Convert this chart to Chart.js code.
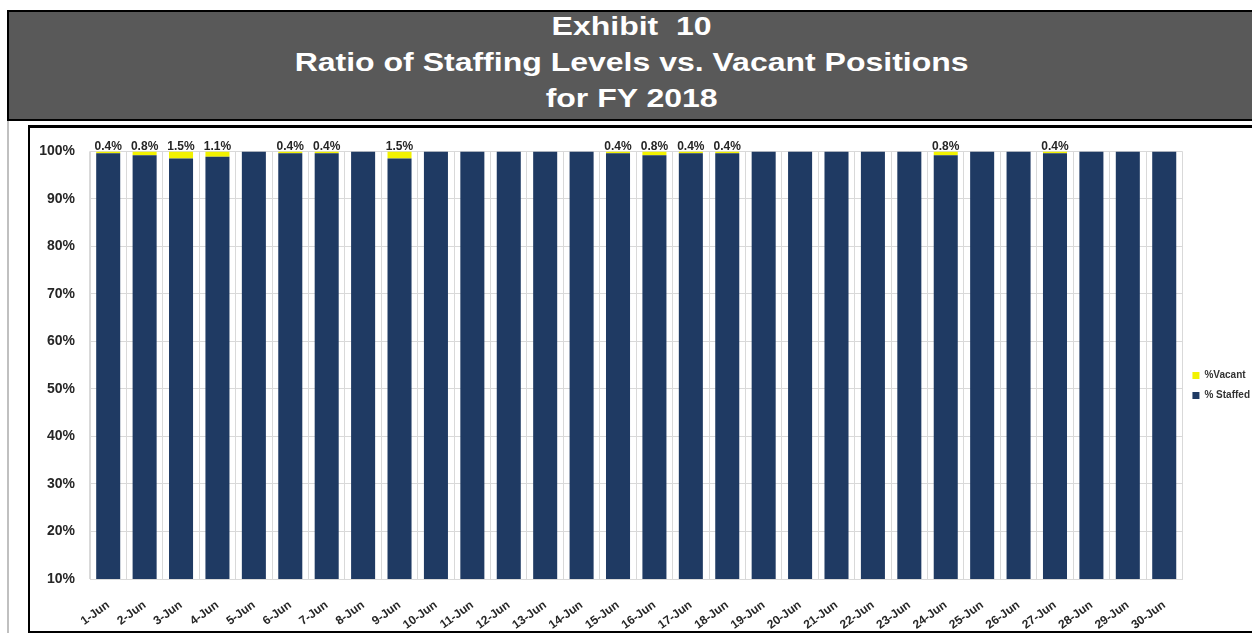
<!DOCTYPE html>
<html>
<head>
<meta charset="utf-8">
<script src="https://cdn.jsdelivr.net/npm/chart.js@4"></script>
<style>
    body { margin: 0; background: #fff; width: 1252px; height: 633px; overflow: hidden; position: relative; font-family: "Liberation Sans", Arial, sans-serif; }
    #header { position: absolute; left: 7px; top: 10px; width: 1260px; height: 107px; background: #595959; border: 2px solid #000; overflow: hidden; }
    #header .inner { position: absolute; left: 0; top: -4px; width: 1245px; color: #fff; font-weight: bold; font-size: 25px; line-height: 36px; text-align: center; transform: scaleX(1.28); transform-origin: 622px 0; }
    #sideline { position: absolute; left: 7px; top: 121px; width: 2px; height: 520px; background: #c0c0c0; }
    #chartBox { position: absolute; left: 28px; top: 125px; width: 1240px; height: 503px; border: 2px solid #000; border-top-width: 3px; background: #fff; }
    #chartWrap { position: absolute; left: 0; top: 0; width: 1230px; height: 503px; }
</style>
</head>
<body>
<div id="header"><div class="inner">Exhibit&nbsp; 10<br>Ratio of Staffing Levels vs. Vacant Positions<br>for FY 2018</div></div>
<div id="sideline"></div>
<div id="chartBox"><div id="chartWrap"><canvas id="staffChart"></canvas></div></div>
<script>
const days = ["1-Jun", "2-Jun", "3-Jun", "4-Jun", "5-Jun", "6-Jun", "7-Jun", "8-Jun", "9-Jun", "10-Jun",
    "11-Jun", "12-Jun", "13-Jun", "14-Jun", "15-Jun", "16-Jun", "17-Jun", "18-Jun", "19-Jun", "20-Jun",
    "21-Jun", "22-Jun", "23-Jun", "24-Jun", "25-Jun", "26-Jun", "27-Jun", "28-Jun", "29-Jun", "30-Jun"];
const vacantPct = [0.4, 0.8, 1.5, 1.1, 0, 0.4, 0.4, 0, 1.5, 0,
    0, 0, 0, 0, 0.4, 0.8, 0.4, 0.4, 0, 0,
    0, 0, 0, 0.8, 0, 0, 0.4, 0, 0, 0];
const staffedPct = [99.6, 99.2, 98.5, 98.9, 100, 99.6, 99.6, 100, 98.5, 100,
    100, 100, 100, 100, 99.6, 99.2, 99.6, 99.6, 100, 100,
    100, 100, 100, 99.2, 100, 100, 99.6, 100, 100, 100];
const yTicks = [10, 20, 30, 40, 50, 60, 70, 80, 90, 100];

const fontFam = "'Liberation Sans', Arial, sans-serif";

// draws the vacant % above each bar that has one
const vacantLabels = {
    id: "vacantLabels",
    afterDatasetsDraw(chart) {
        const ctx = chart.ctx;
        const meta = chart.getDatasetMeta(1);
        ctx.save();
        ctx.font = "bold 12px " + fontFam;
        ctx.fillStyle = "#262626";
        ctx.textAlign = "center";
        ctx.textBaseline = "bottom";
        meta.data.forEach(function (bar, i) {
            if (vacantPct[i] > 0) {
                ctx.fillText(vacantPct[i].toFixed(1) + "%", bar.x, chart.scales.y.getPixelForValue(100) + 1);
            }
        });
        ctx.restore();
    }
};

document.addEventListener("DOMContentLoaded", function () {
    const ctx = document.getElementById("staffChart");
    new Chart(ctx, {
        type: "bar",
        data: {
            labels: days,
            datasets: [{
                label: "% Staffed",
                data: staffedPct,
                backgroundColor: "#1f3a63",
                borderWidth: 0,
            }, {
                label: "%Vacant",
                data: vacantPct,
                backgroundColor: "#f2f200",
                borderWidth: 0,
            }],
        },
        options: {
            responsive: true,
            maintainAspectRatio: false,
            animation: false,
            categoryPercentage: 1,
            barPercentage: 0.66,
            layout: { padding: { left: 0, top: 12, right: 0, bottom: 0 } },
            plugins: {
                title: { display: false },
                tooltip: { enabled: false },
                legend: {
                    position: "right",
                    reverse: true,
                    labels: {
                        boxWidth: 7,
                        boxHeight: 7,
                        padding: 10,
                        color: "#333",
                        font: { family: fontFam, size: 10, weight: "bold" },
                    },
                },
            },
            scales: {
                x: {
                    stacked: true,
                    grid: { color: "#d9d9d9", offset: true, drawTicks: false },
                    border: { color: "#d9d9d9" },
                    afterFit: function (scale) {
                        scale.paddingLeft = 0;
                        scale.paddingRight = 0;
                        scale.height = 52;
                    },
                    ticks: {
                        autoSkip: false,
                        maxRotation: 36,
                        minRotation: 36,
                        padding: 19,
                        color: "#262626",
                        font: { family: fontFam, size: 12, weight: "bold" },
                    },
                },
                y: {
                    stacked: true,
                    min: 10,
                    max: 100,
                    afterBuildTicks: function (axis) {
                        axis.ticks = yTicks.map(function (v) { return { value: v }; });
                    },
                    afterFit: function (scale) {
                        scale.width = 60;
                    },
                    grid: { color: "#d9d9d9", drawTicks: false },
                    border: { color: "#d9d9d9" },
                    ticks: {
                        padding: 15,
                        color: "#262626",
                        font: { family: fontFam, size: 14, weight: "bold" },
                        callback: function (v) { return v + "%"; },
                    },
                },
            },
        },
        plugins: [vacantLabels],
    });
});
</script>
</body>
</html>
